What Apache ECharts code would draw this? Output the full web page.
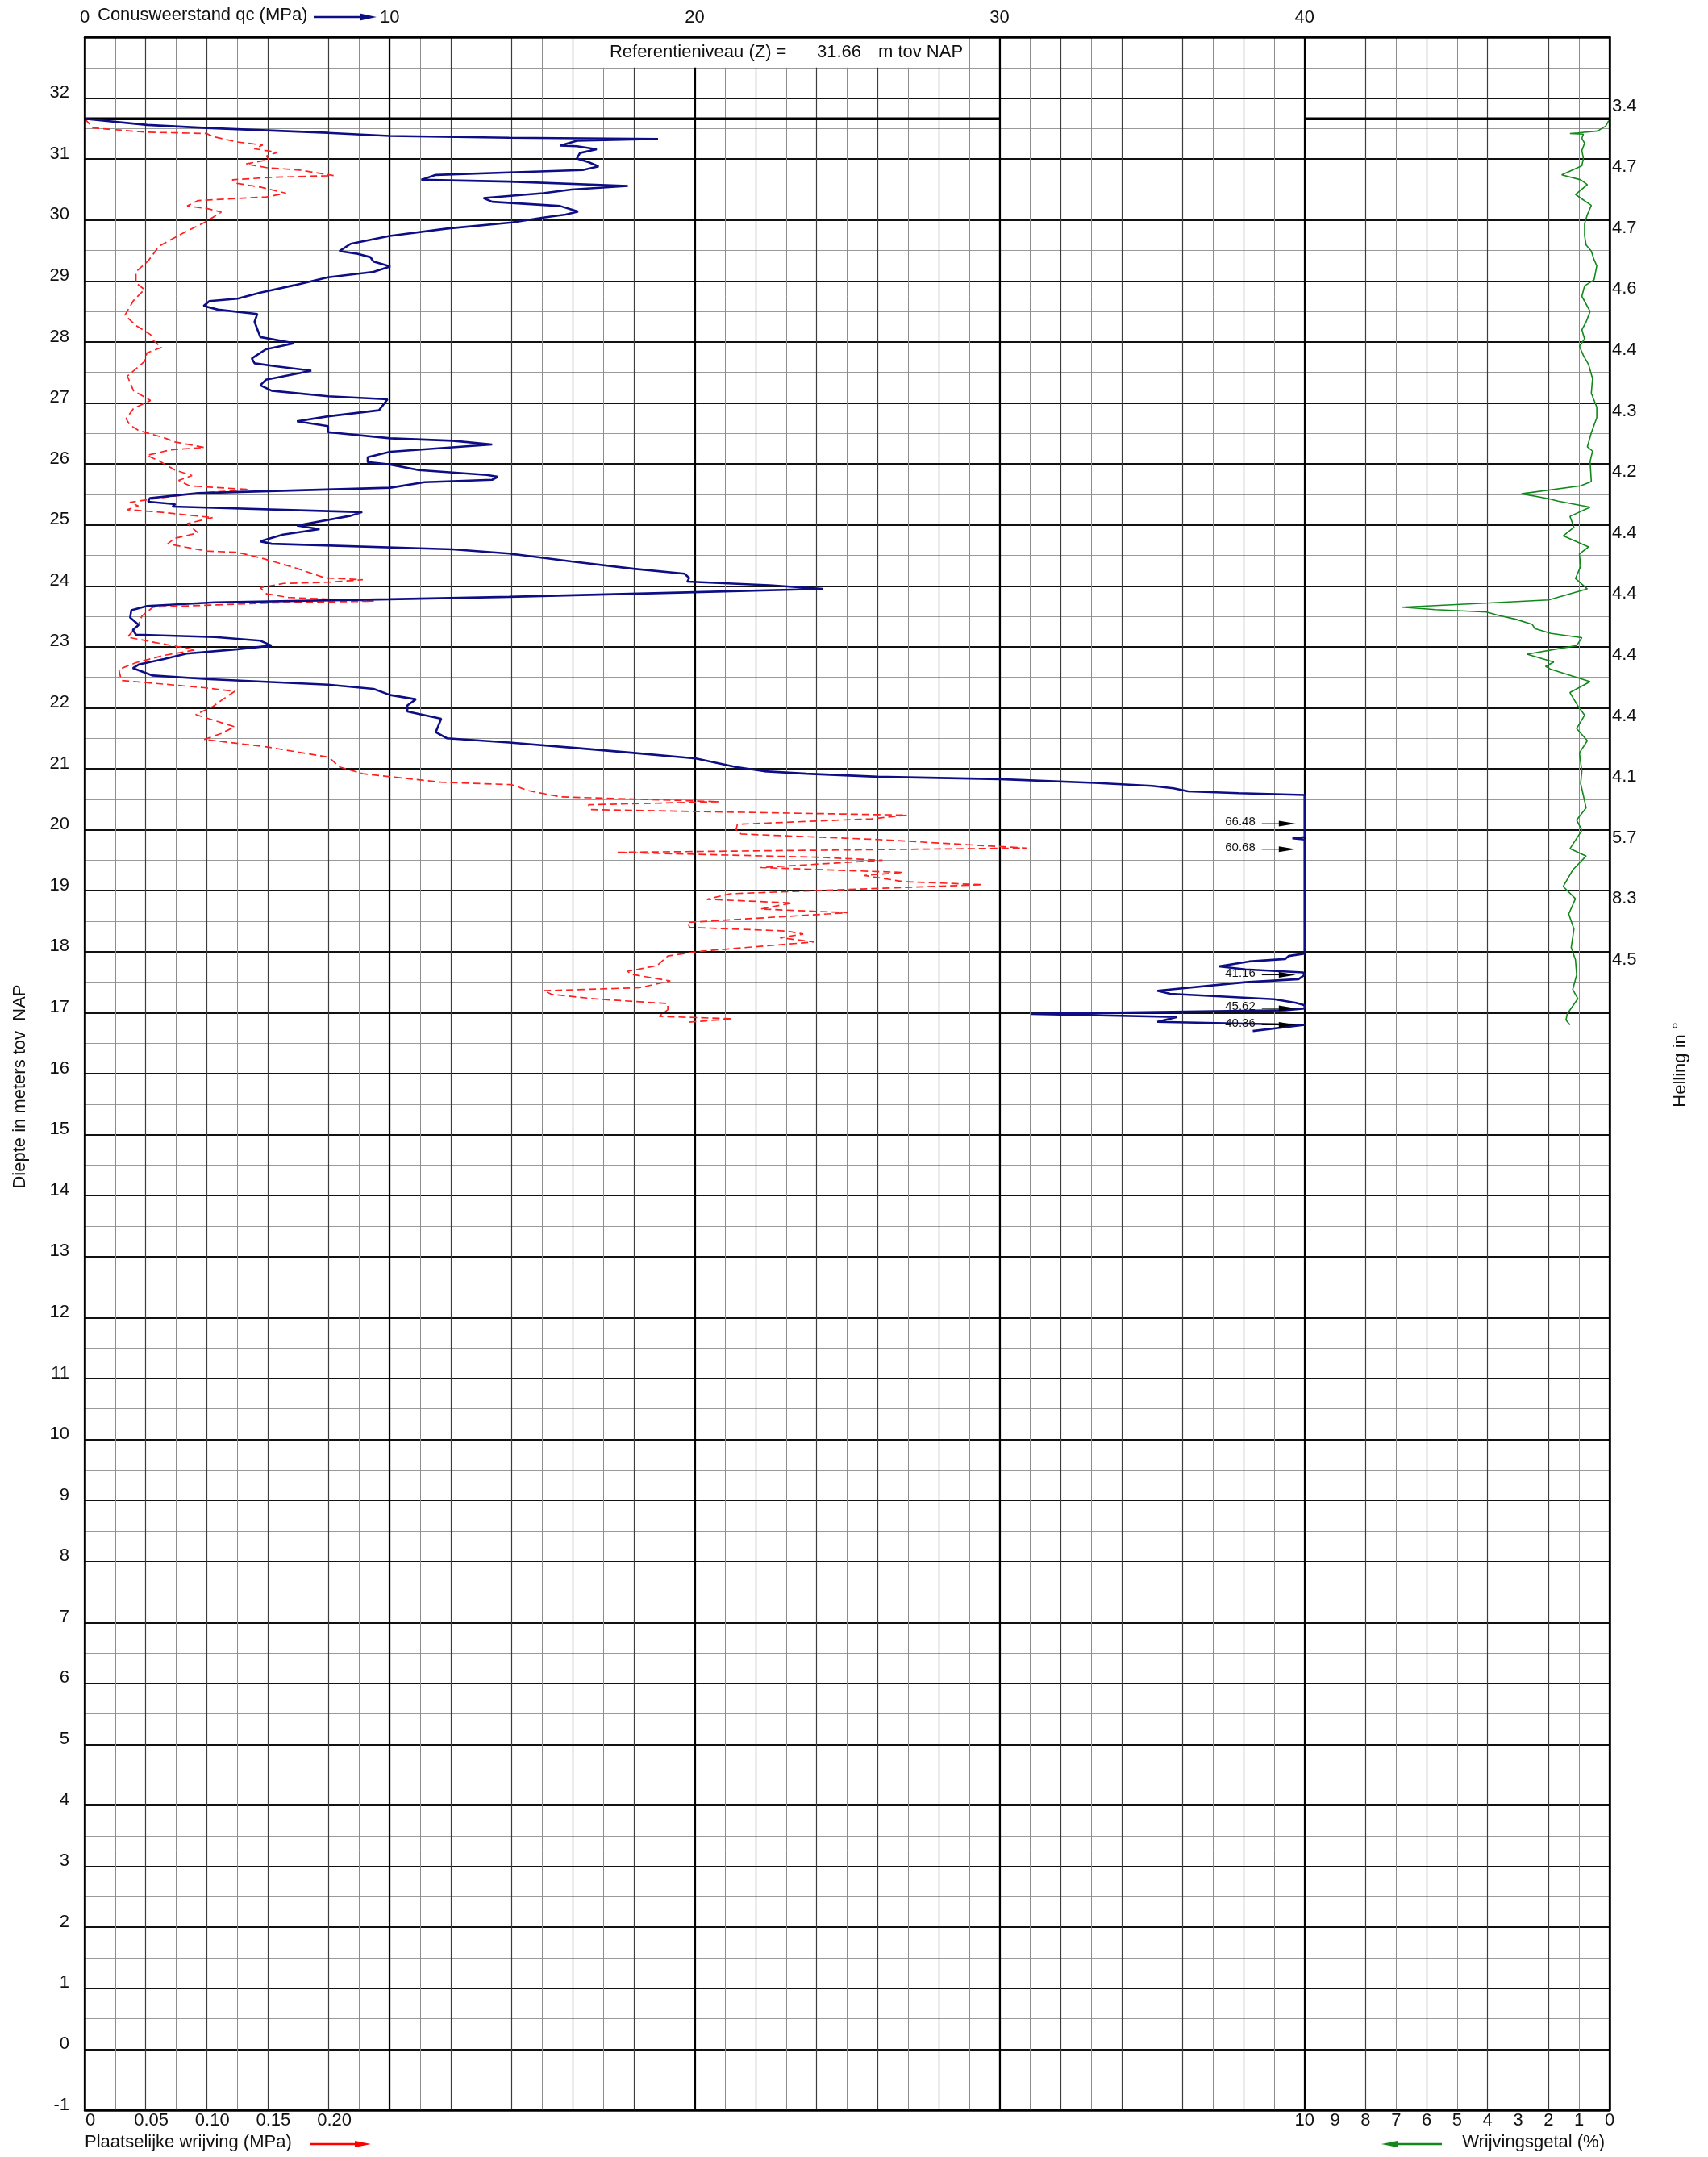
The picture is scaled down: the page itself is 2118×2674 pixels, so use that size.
<!DOCTYPE html>
<html>
<head>
<meta charset="utf-8">
<title>Sondering</title>
<script src="https://cdn.jsdelivr.net/npm/echarts@6/dist/echarts.min.js"></script>
<style>
  html, body { margin: 0; padding: 0; background: #ffffff; }
  #chart { width: 2118px; height: 2674px; }
</style>
</head>
<body>
<div id="chart"></div>
<script>
// ---- axis ranges -------------------------------------------------------
const DEPTH_MIN = -1, DEPTH_MAX = 33;       // m tov NAP
const QC_MAX = 50, QC_CLIP = 40;            // cone resistance scale (MPa)
const FS_MAX = 1.25;                        // local friction scale (MPa)
const RF_MAX = 10;                          // friction ratio scale (%)
const REF_LEVEL = 31.66;                    // reference level (m tov NAP)
const REF_LINE_SEGMENTS = [[0, 30], [40, 50]];
const REF_BOX = [17, 29, 32.5, 33];         // qc from, qc to, depth from, depth to

// ---- tick labels ---------------------------------------------------------
const QC_TICK_LABELS = [0, 10, 20, 30, 40];
const FS_TICK_LABELS = [0, 0.05, 0.10, 0.15, 0.20];
const DEPTH_TICK_LABELS = [-1,0,1,2,3,4,5,6,7,8,9,10,11,12,13,14,15,16,17,18,19,20,21,22,23,24,25,26,27,28,29,30,31,32];
const HELLING_DEPTHS = [32, 31, 30, 29, 28, 27, 26, 25, 24, 23, 22, 21, 20, 19, 18];
const HELLING_VALUES = [3.4, 4.7, 4.7, 4.6, 4.4, 4.3, 4.2, 4.4, 4.4, 4.4, 4.4, 4.1, 5.7, 8.3, 4.5];

// ---- cone resistance qc (MPa) --------------------------------------------
const QC_DEPTH = [31.66,31.56,31.51,31.43,31.38,31.35,31.33,31.30,31.22,31.21,31.16,31.10,31.01,30.95,30.88,30.82,30.78,30.74,30.66,30.63,
  30.56,30.50,30.44,30.36,30.30,30.23,30.14,30.09,30.04,29.96,29.86,29.74,29.61,29.49,29.45,29.39,29.32,29.24,29.15,29.06,
  28.93,28.81,28.71,28.67,28.59,28.53,28.46,28.33,28.21,28.08,27.98,27.88,27.73,27.65,27.60,27.53,27.49,27.38,27.29,27.20,
  27.11,27.06,26.88,26.78,26.70,26.62,26.52,26.42,26.38,26.32,26.20,26.11,26.03,25.99,25.90,25.86,25.82,25.79,25.74,25.70,
  25.61,25.52,25.44,25.38,25.34,25.30,25.21,25.15,24.99,24.93,24.84,24.73,24.69,24.60,24.53,24.40,24.28,24.20,24.13,24.07,
  24.01,23.95,23.89,23.82,23.78,23.73,23.67,23.60,23.48,23.36,23.28,23.20,23.16,23.10,23.02,22.96,22.89,22.80,22.71,22.65,
  22.53,22.47,22.38,22.31,22.21,22.14,22.04,21.94,21.82,21.60,21.50,21.43,21.34,21.26,21.17,21.03,20.96,20.92,20.87,20.83,
  20.77,20.72,20.68,20.63,20.60,20.57,20.10,19.88,19.86,19.84,19.68,17.97,17.93,17.88,17.84,17.76,17.71,17.66,17.62,17.55,
  17.50,17.36,17.31,17.22,17.16,17.12,17.07,17.04,16.98,16.93,16.85,16.80,16.70];
const QC_VALUE = [0.00,2.05,3.99,7.98,10.00,13.92,18.80,16.14,15.59,16.14,16.79,16.24,16.14,16.52,16.85,16.33,13.92,11.51,11.04,13.92,
  17.81,15.96,15.03,13.08,13.36,15.59,16.18,15.77,15.03,14.01,11.88,10.00,8.72,8.35,8.91,9.37,9.47,10.02,9.47,7.98,
  6.87,5.76,5.01,4.09,3.90,4.37,5.66,5.57,5.66,5.76,6.87,5.94,5.48,5.57,6.31,7.43,7.05,5.94,5.76,6.13,
  7.98,9.93,9.65,7.98,6.96,7.98,7.98,10.02,12.06,13.36,10.02,9.28,9.28,10.02,10.95,12.06,13.18,13.55,13.36,11.14,
  10.02,3.72,2.14,2.08,2.97,2.88,9.10,8.72,6.96,7.70,6.50,5.76,6.13,12.06,13.92,15.96,18.00,19.67,19.82,19.76,
  22.45,24.21,19.48,13.92,10.00,4.27,2.05,1.53,1.49,1.77,1.58,1.68,4.27,5.76,6.13,5.01,3.34,2.60,1.77,1.58,
  2.23,4.09,7.98,9.47,10.02,10.86,10.58,10.58,11.69,11.51,11.88,13.92,16.14,18.00,20.04,21.34,22.27,23.67,26.00,30.00,
  33.11,35.00,35.70,36.18,37.83,40.00,66.48,40.00,39.60,40.00,60.68,40.00,39.48,39.36,38.18,37.18,38.06,39.95,41.16,39.80,
  38.06,35.17,35.59,39.00,39.72,40.00,45.62,39.36,31.04,35.82,35.17,40.36,38.30];

// ---- local friction fs (MPa) ---------------------------------------------
const FS_DEPTH = [31.66,31.51,31.44,31.42,31.37,31.28,31.23,31.17,31.11,31.05,30.99,30.92,30.86,30.82,30.73,30.70,30.66,30.60,30.54,30.44,
  30.38,30.32,30.23,30.19,30.13,29.98,29.77,29.57,29.33,29.15,28.97,28.86,28.68,28.44,28.27,28.12,28.03,27.91,27.82,27.68,
  27.44,27.20,27.04,26.91,26.74,26.64,26.55,26.43,26.36,26.27,26.23,26.14,26.05,25.90,25.81,25.73,25.64,25.58,25.52,25.44,
  25.37,25.31,25.25,25.21,25.12,25.02,24.87,24.78,24.69,24.57,24.55,24.46,24.30,24.13,24.10,24.06,24.04,23.97,23.87,23.81,
  23.75,23.72,23.65,23.51,23.36,23.16,23.07,22.95,22.86,22.74,22.63,22.45,22.33,22.27,22.15,22.02,21.89,21.80,21.69,21.58,
  21.48,21.36,21.19,21.03,20.92,20.78,20.74,20.64,20.54,20.46,20.41,20.33,20.24,20.18,20.09,20.00,19.93,19.90,19.84,19.70,
  19.63,19.55,19.50,19.38,19.30,19.25,19.15,19.10,18.95,18.86,18.80,18.70,18.64,18.48,18.40,18.34,18.29,18.23,18.16,18.01,
  17.93,17.77,17.68,17.63,17.52,17.41,17.36,17.30,17.22,17.15,17.05,16.94,16.90,16.84];
const FS_VALUE = [0.000,0.007,0.051,0.100,0.105,0.125,0.146,0.139,0.158,0.149,0.151,0.132,0.149,0.176,0.204,0.153,0.121,0.125,0.144,0.165,
  0.149,0.093,0.084,0.100,0.112,0.100,0.079,0.061,0.052,0.042,0.042,0.049,0.040,0.033,0.042,0.054,0.056,0.063,0.051,0.049,
  0.035,0.040,0.054,0.040,0.034,0.037,0.044,0.065,0.074,0.098,0.070,0.051,0.061,0.074,0.088,0.077,0.086,0.135,0.093,0.061,
  0.037,0.044,0.035,0.061,0.105,0.084,0.093,0.074,0.068,0.100,0.125,0.144,0.172,0.197,0.228,0.200,0.163,0.144,0.149,0.167,
  0.237,0.153,0.056,0.047,0.044,0.035,0.058,0.091,0.065,0.042,0.028,0.030,0.098,0.123,0.114,0.105,0.091,0.105,0.123,0.112,
  0.098,0.149,0.200,0.209,0.228,0.292,0.350,0.364,0.390,0.520,0.413,0.415,0.674,0.645,0.535,0.534,0.538,0.575,0.650,0.772,
  0.436,0.600,0.654,0.554,0.671,0.639,0.671,0.736,0.529,0.510,0.580,0.554,0.626,0.494,0.496,0.575,0.589,0.570,0.598,0.506,
  0.478,0.469,0.445,0.448,0.480,0.455,0.376,0.383,0.422,0.478,0.478,0.471,0.531,0.492];

// ---- friction ratio Rf (%) -----------------------------------------------
const RF_DEPTH = [31.63,31.54,31.46,31.43,31.42,31.41,31.34,31.26,31.14,31.01,30.89,30.74,30.66,30.58,30.42,30.24,30.09,29.94,29.74,29.59,
  29.49,29.35,29.25,29.02,28.92,28.75,28.50,28.33,28.20,28.05,27.93,27.78,27.63,27.40,27.16,26.93,26.76,26.51,26.28,26.21,
  26.04,25.71,25.64,25.51,25.43,25.39,25.29,25.14,24.96,24.82,24.64,24.52,24.32,24.12,23.95,23.77,23.72,23.65,23.61,23.57,
  23.52,23.45,23.37,23.30,23.22,23.15,23.02,22.88,22.75,22.68,22.63,22.43,22.25,22.03,21.88,21.66,21.46,21.26,20.96,20.76,
  20.36,20.16,19.99,19.69,19.57,19.34,19.07,18.87,18.62,18.37,18.07,17.87,17.62,17.38,17.23,16.98,16.88,16.80];
const RF_VALUE = [0.03,0.13,0.39,1.04,1.30,0.86,0.91,0.82,0.91,0.86,0.91,1.57,0.95,0.73,1.12,0.60,0.73,0.82,0.82,0.77,
  0.60,0.51,0.42,0.51,0.82,0.91,0.64,0.77,0.91,0.82,0.99,0.86,0.69,0.56,0.60,0.42,0.42,0.60,0.73,0.56,
  0.64,0.60,0.95,2.89,2.00,1.69,0.64,1.30,1.17,1.52,0.69,0.99,0.95,1.12,0.73,2.00,3.95,6.80,5.71,4.03,
  3.68,3.06,2.54,2.45,1.92,0.91,1.08,2.71,1.83,2.10,1.92,0.64,1.30,1.04,0.82,1.08,0.73,0.99,0.91,0.95,
  0.77,1.08,0.91,1.30,0.77,1.21,1.52,1.12,1.34,1.17,1.26,1.12,1.08,1.21,1.04,1.39,1.43,1.30];

// ---- styling -------------------------------------------------------------
const FONT = '"Liberation Sans", Arial, sans-serif';
const TXT = '#111111';
const QC_COLOR = '#0d0d85';
const FS_COLOR = '#ff1f1f';
const RF_COLOR = '#11891a';

const PLOT = { left: 105, top: 46, width: 1891, height: 2570 };
const RF_LEFT = PLOT.left + PLOT.width * QC_CLIP / QC_MAX;

function near(list, v) {
  for (const l of list) if (Math.abs(l - v) < 1e-6) return l;
  return null;
}

function gridAxisX(interval, color, width) {
  return {
    gridIndex: 0, type: 'value', position: 'bottom', min: 0, max: QC_MAX, interval: interval,
    axisLine: { show: false }, axisTick: { show: false }, axisLabel: { show: false },
    splitLine: { show: true, lineStyle: { color: color, width: width } }, z: 0
  };
}
function gridAxisY(interval, color, width) {
  return {
    gridIndex: 0, type: 'value', position: 'left', min: DEPTH_MIN, max: DEPTH_MAX, interval: interval,
    axisLine: { show: false }, axisTick: { show: false }, axisLabel: { show: false },
    splitLine: { show: true, lineStyle: { color: color, width: width } }, z: 0
  };
}

const frameLine = { show: true, onZero: false, lineStyle: { color: '#000000', width: 2.5 } };
const labelBase = { color: TXT, fontSize: 22, fontFamily: FONT };

const chart = echarts.init(document.getElementById('chart'), null, { renderer: 'canvas' });

const qcData = QC_DEPTH.map((d, i) => [Math.min(QC_VALUE[i], QC_CLIP), d]);
const fsData = FS_DEPTH.map((d, i) => [FS_VALUE[i], d]);
const rfData = RF_DEPTH.map((d, i) => [RF_VALUE[i], d]);
const peakData = [];
QC_DEPTH.forEach((d, i) => { if (QC_VALUE[i] > QC_CLIP) peakData.push([QC_CLIP, d, QC_VALUE[i]]); });

const series = [
  // white title box at the top of the cone resistance field
  {
    type: 'custom', xAxisIndex: 0, yAxisIndex: 0, z: 3, silent: true,
    data: [REF_BOX],
    renderItem: function (params, api) {
      const p0 = api.coord([api.value(0), api.value(3)]);
      const p1 = api.coord([api.value(1), api.value(2)]);
      const cy = (p0[1] + p1[1]) / 2;
      const ts = { fill: TXT, fontSize: 22, fontFamily: FONT, verticalAlign: 'middle', align: 'left' };
      return {
        type: 'group',
        children: [
          { type: 'rect', shape: { x: p0[0], y: p0[1], width: p1[0] - p0[0], height: p1[1] - p0[1] },
            style: { fill: '#ffffff', stroke: null } },
          { type: 'text', style: Object.assign({ x: p0[0] + 8, y: cy, text: 'Referentieniveau (Z) =' }, ts) },
          { type: 'text', style: Object.assign({ x: p0[0] + 265, y: cy, text: REF_LEVEL.toFixed(2) }, ts) },
          { type: 'text', style: Object.assign({ x: p0[0] + 341, y: cy, text: 'm tov NAP' }, ts) }
        ]
      };
    }
  },
  // reference level line
  ...REF_LINE_SEGMENTS.map(seg => ({
    type: 'line', xAxisIndex: 0, yAxisIndex: 0, z: 4, silent: true, symbol: 'none',
    data: [[seg[0], REF_LEVEL], [seg[1], REF_LEVEL]],
    lineStyle: { color: '#000000', width: 3.5 }
  })),
  // local friction
  {
    type: 'line', xAxisIndex: 1, yAxisIndex: 0, z: 5, symbol: 'none', silent: true,
    data: fsData,
    lineStyle: { color: FS_COLOR, width: 1.7, type: [9, 5] }
  },
  // cone resistance
  {
    type: 'line', xAxisIndex: 0, yAxisIndex: 0, z: 6, symbol: 'none', silent: true,
    data: qcData,
    lineStyle: { color: QC_COLOR, width: 2.6 }
  },
  // values beyond the qc scale
  {
    type: 'custom', xAxisIndex: 0, yAxisIndex: 0, z: 7, silent: true,
    data: peakData,
    renderItem: function (params, api) {
      const p = api.coord([api.value(0), api.value(1)]);
      const v = api.value(2);
      return {
        type: 'group',
        children: [
          { type: 'text', style: { x: p[0] - 61, y: p[1] - 2, text: v.toFixed(2), fill: TXT,
              fontSize: 15, fontFamily: FONT, align: 'right', verticalAlign: 'middle' } },
          { type: 'line', shape: { x1: p[0] - 53, y1: p[1], x2: p[0] - 30, y2: p[1] },
            style: { stroke: '#000000', lineWidth: 1 } },
          { type: 'polygon', shape: { points: [[p[0] - 32, p[1] - 3.5], [p[0] - 11, p[1]], [p[0] - 32, p[1] + 3.5]] },
            style: { fill: '#000000' } }
        ]
      };
    }
  },
  // friction ratio
  {
    type: 'line', xAxisIndex: 5, yAxisIndex: 4, z: 5, symbol: 'none', silent: true,
    data: rfData,
    lineStyle: { color: RF_COLOR, width: 1.6 }
  }
];

const option = {
  animation: false,
  backgroundColor: '#ffffff',
  textStyle: { fontFamily: FONT },
  grid: [
    { left: PLOT.left, top: PLOT.top, width: PLOT.width, height: PLOT.height, containLabel: false, outerBoundsMode: 'none' },
    { left: RF_LEFT, top: PLOT.top, width: PLOT.left + PLOT.width - RF_LEFT, height: PLOT.height, containLabel: false, outerBoundsMode: 'none' }
  ],
  xAxis: [
    { // 0: cone resistance, labelled on top
      gridIndex: 0, type: 'value', position: 'top', min: 0, max: QC_MAX, interval: 10, z: 10,
      axisLine: frameLine, axisTick: { show: false }, splitLine: { show: false },
      axisLabel: Object.assign({ margin: 13, formatter: v => { const l = near(QC_TICK_LABELS, v); return l === null ? '' : String(l); } }, labelBase)
    },
    { // 1: local friction, labelled at the bottom
      gridIndex: 0, type: 'value', position: 'bottom', min: 0, max: FS_MAX, interval: 0.05, z: 10,
      axisLine: frameLine, axisTick: { show: false }, splitLine: { show: false },
      axisLabel: Object.assign({ margin: 2, padding: [0, 0, 0, 14], hideOverlap: false,
        formatter: v => { const l = near(FS_TICK_LABELS, v); return l === null ? '' : (l === 0 ? '0' : l.toFixed(2)); } }, labelBase)
    },
    gridAxisX(1, '#8c8c8c', 1),     // 2: every MPa
    gridAxisX(2, '#3c3c3c', 1.2),   // 3: every 2 MPa
    gridAxisX(10, '#000000', 2.2),  // 4: every 10 MPa
    { // 5: friction ratio, reversed
      gridIndex: 1, type: 'value', position: 'bottom', min: 0, max: RF_MAX, interval: 1, inverse: true, z: 10,
      axisLine: { show: false }, axisTick: { show: false }, splitLine: { show: false },
      axisLabel: Object.assign({ margin: 2, showMinLabel: true, showMaxLabel: true }, labelBase)
    }
  ],
  yAxis: [
    { // 0: depth, labels sit just above their grid line
      gridIndex: 0, type: 'value', position: 'left', min: DEPTH_MIN, max: DEPTH_MAX, interval: 1, z: 10,
      axisLine: frameLine, axisTick: { show: false }, splitLine: { show: false },
      axisLabel: Object.assign({ margin: 19, verticalAlign: 'bottom', lineHeight: 13,
        formatter: v => { const l = near(DEPTH_TICK_LABELS, v); return l === null ? '' : String(l); } }, labelBase)
    },
    { // 1: inclination per metre, labels sit just below their grid line
      gridIndex: 0, type: 'value', position: 'right', min: DEPTH_MIN, max: DEPTH_MAX, interval: 1, z: 10,
      axisLine: frameLine, axisTick: { show: false }, splitLine: { show: false },
      axisLabel: Object.assign({ margin: 3, verticalAlign: 'top', lineHeight: 20,
        formatter: v => { const i = HELLING_DEPTHS.findIndex(d => Math.abs(d - v) < 1e-6); return i < 0 ? '' : HELLING_VALUES[i].toFixed(1); } }, labelBase)
    },
    gridAxisY(0.5, '#9a9a9a', 1.2),  // 2: every half metre
    gridAxisY(1, '#111111', 2),      // 3: every metre
    { // 4: depth for the friction ratio field
      gridIndex: 1, type: 'value', min: DEPTH_MIN, max: DEPTH_MAX, show: false
    }
  ],
  graphic: [
    { type: 'text', left: 121, top: 8, style: { text: 'Conusweerstand qc (MPa)', fill: TXT, fontSize: 22, fontFamily: FONT } },
    { type: 'line', shape: { x1: 389, y1: 21, x2: 450, y2: 21 }, style: { stroke: QC_COLOR, lineWidth: 2.5 } },
    { type: 'polygon', shape: { points: [[446, 16.5], [467, 21], [446, 25.5]] }, style: { fill: QC_COLOR } },

    { type: 'text', left: 105, top: 2645, style: { text: 'Plaatselijke wrijving (MPa)', fill: TXT, fontSize: 22, fontFamily: FONT } },
    { type: 'line', shape: { x1: 384, y1: 2658, x2: 444, y2: 2658 }, style: { stroke: '#ff0000', lineWidth: 2.5 } },
    { type: 'polygon', shape: { points: [[440, 2654], [460, 2658], [440, 2662]] }, style: { fill: '#ff0000' } },

    { type: 'text', right: 128, top: 2645, style: { text: 'Wrijvingsgetal (%)', fill: TXT, fontSize: 22, fontFamily: FONT } },
    { type: 'line', shape: { x1: 1729, y1: 2658, x2: 1788, y2: 2658 }, style: { stroke: RF_COLOR, lineWidth: 2.5 } },
    { type: 'polygon', shape: { points: [[1733, 2654], [1713, 2658], [1733, 2662]] }, style: { fill: RF_COLOR } },

    { type: 'text', x: 25, y: 1347, rotation: Math.PI / 2,
      style: { text: 'Diepte in meters tov  NAP', fill: TXT, fontSize: 22, fontFamily: FONT, align: 'center', verticalAlign: 'middle' } },
    { type: 'text', x: 2084, y: 1320, rotation: Math.PI / 2,
      style: { text: 'Helling in \u00b0', fill: TXT, fontSize: 22, fontFamily: FONT, align: 'center', verticalAlign: 'middle' } }
  ],
  series: series
};

chart.setOption(option);
</script>
</body>
</html>
